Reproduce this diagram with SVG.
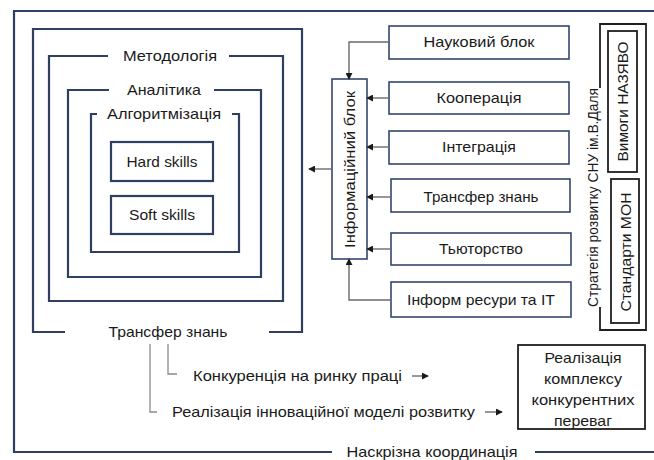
<svg xmlns="http://www.w3.org/2000/svg" width="654" height="460" viewBox="0 0 654 460">
<defs>
<style>
text{font-family:"Liberation Sans",Arial,sans-serif;font-size:15px;fill:#1a1a1a}
.fr{fill:none;stroke:#2f3f62;stroke-width:2.2}
.bx{fill:#fff;stroke:#34466e;stroke-width:1.6}
.bk{fill:#fff;stroke:#1f1f1f;stroke-width:1.8}
.cn{fill:none;stroke:#6a6a6a;stroke-width:1.4}
.gl{fill:none;stroke:#8a8a8a;stroke-width:1.3}
.mid{text-anchor:middle}
</style>
<marker id="ah" viewBox="0 0 8 8" refX="7" refY="4" markerWidth="7" markerHeight="7" markerUnits="userSpaceOnUse" orient="auto">
<path d="M0,0 L8,4 L0,8 z" fill="#1a1a1a"/>
</marker>
</defs>
<rect width="654" height="460" fill="#fff"/>

<g id="outer-frame">
<path class="fr" d="M654,11 H14 V452 H332 M535,452 H654"/>
<text x="432" y="457" class="mid" textLength="171" lengthAdjust="spacingAndGlyphs">Наскрізна координація</text>
</g>

<g id="frame-transfer">
<path class="fr" d="M65,332 H33 V29 H302 V332 H269"/>
<text x="168" y="337" class="mid" textLength="119" lengthAdjust="spacingAndGlyphs">Трансфер знань</text>
</g>

<g id="frame-methodology">
<path class="fr" d="M108,56 H49 V301 H283 V56 H229"/>
<text x="170" y="61" class="mid" textLength="94" lengthAdjust="spacingAndGlyphs">Методологія</text>
</g>

<g id="frame-analytics">
<path class="fr" d="M109,90 H68 V277 H261 V90 H214"/>
<text x="164" y="95" class="mid" textLength="74" lengthAdjust="spacingAndGlyphs">Аналітика</text>
</g>

<g id="frame-algorithm">
<path class="fr" d="M97,114 H91 V252 H239 V114 H232"/>
<text x="164" y="119" class="mid" textLength="114" lengthAdjust="spacingAndGlyphs">Алгоритмізація</text>
</g>

<g id="hard-skills">
<rect class="fr" x="111" y="142" width="102" height="39"/>
<text x="162" y="167" class="mid" textLength="71" lengthAdjust="spacingAndGlyphs">Hard skills</text>
</g>

<g id="soft-skills">
<rect class="fr" x="111" y="196" width="102" height="38"/>
<text x="162" y="220" class="mid" textLength="66" lengthAdjust="spacingAndGlyphs">Soft skills</text>
</g>

<g id="info-block">
<rect class="bx" x="332" y="79" width="35" height="180"/>
<text transform="translate(355,169.5) rotate(-90)" class="mid" textLength="157" lengthAdjust="spacingAndGlyphs">Інформаційний блок</text>
</g>

<g id="science-block">
<rect class="bx" x="389" y="26" width="180" height="33"/>
<text x="479" y="47" class="mid" textLength="111" lengthAdjust="spacingAndGlyphs">Науковий блок</text>
</g>

<g id="cooperation">
<rect class="bx" x="389" y="82" width="180" height="32"/>
<text x="479" y="103" class="mid" textLength="85" lengthAdjust="spacingAndGlyphs">Кооперація</text>
</g>

<g id="integration">
<rect class="bx" x="389" y="131" width="180" height="33"/>
<text x="479" y="152" class="mid" textLength="74" lengthAdjust="spacingAndGlyphs">Інтеграція</text>
</g>

<g id="knowledge-transfer">
<rect class="bx" x="391" y="179" width="179" height="33"/>
<text x="481" y="202" class="mid" textLength="115" lengthAdjust="spacingAndGlyphs">Трансфер знань</text>
</g>

<g id="tutoring">
<rect class="bx" x="391" y="233" width="180" height="32"/>
<text x="481" y="254" class="mid" textLength="84" lengthAdjust="spacingAndGlyphs">Тьюторство</text>
</g>

<g id="info-resources">
<rect class="bx" x="391" y="282" width="180" height="35"/>
<text x="481" y="305" class="mid" textLength="148" lengthAdjust="spacingAndGlyphs">Інформ ресури та ІТ</text>
</g>

<g id="strategy">
<path class="bk" fill="none" d="M600,88 V24 H646 V330 H600 V307"/>
<text transform="translate(598,197.5) rotate(-90)" class="mid" style="font-size:14px" textLength="219" lengthAdjust="spacingAndGlyphs">Стратегія розвитку СНУ ім.В.Даля</text>
</g>

<g id="nazyavo">
<rect class="bk" x="608" y="31" width="29" height="141"/>
<text transform="translate(627.5,101.5) rotate(-90)" class="mid" textLength="120" lengthAdjust="spacingAndGlyphs">Вимоги НАЗЯВО</text>
</g>

<g id="mon">
<rect class="bk" x="611" y="179" width="28" height="144"/>
<text transform="translate(630.5,252) rotate(-90)" class="mid" textLength="119" lengthAdjust="spacingAndGlyphs">Стандарти МОН</text>
</g>

<g id="competitive-advantages">
<rect class="bk" x="518" y="345" width="127" height="84"/>
<text x="583" y="363" class="mid" textLength="77" lengthAdjust="spacingAndGlyphs">Реалізація</text>
<text x="583" y="384" class="mid" textLength="78" lengthAdjust="spacingAndGlyphs">комплексу</text>
<text x="583" y="405" class="mid" textLength="103" lengthAdjust="spacingAndGlyphs">конкурентних</text>
<text x="583" y="426" class="mid" textLength="58" lengthAdjust="spacingAndGlyphs">переваг</text>
</g>

<g id="labor-competition">
<text x="193" y="381" textLength="209" lengthAdjust="spacingAndGlyphs">Конкуренція на ринку праці</text>
</g>

<g id="innovation-model">
<text x="172" y="417" textLength="303" lengthAdjust="spacingAndGlyphs">Реалізація інноваційної моделі розвитку</text>
</g>

<g id="connectors">
<path class="cn" d="M332,169 H309" marker-end="url(#ah)"/>
<path class="cn" d="M389,42 H349 V79" marker-end="url(#ah)"/>
<path class="cn" d="M389,98 H367" marker-end="url(#ah)"/>
<path class="cn" d="M389,147 H367" marker-end="url(#ah)"/>
<path class="cn" d="M391,197 H367" marker-end="url(#ah)"/>
<path class="cn" d="M391,249 H367" marker-end="url(#ah)"/>
<path class="cn" d="M391,300 H349 V259" marker-end="url(#ah)"/>
<path class="gl" d="M150,344 V412 H157"/>
<path class="gl" d="M168,344 V374 H177"/>
<path class="cn" d="M412,376 H428" marker-end="url(#ah)"/>
<path class="cn" d="M485,412 H502" marker-end="url(#ah)"/>
</g>
</svg>
